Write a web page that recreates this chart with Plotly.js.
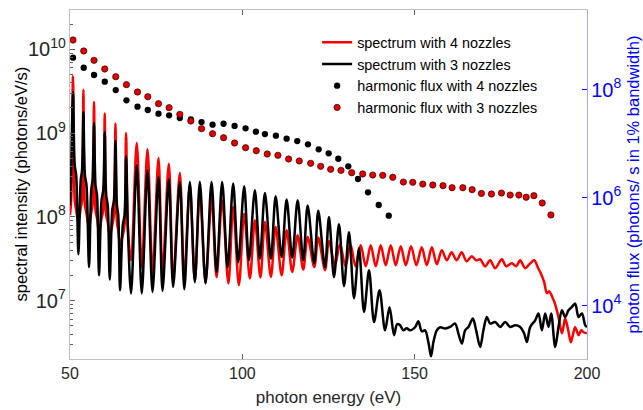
<!DOCTYPE html>
<html><head><meta charset="utf-8">
<script src="https://cdn.plot.ly/plotly-3.0.1.min.js"></script>
<style>html,body{margin:0;padding:0;background:#fff}#chart{width:643px;height:410px}</style>
</head><body><div id="chart"></div>
<script>
// spectrum with 4 nozzles (red), photon energy (eV) and spectral intensity (photons/eV/s)
const spec4E = [50.0,50.35,50.87,51.37,51.80,52.44,53.11,53.49,53.89,54.33,54.79,55.52,56.16,56.53,56.97,57.41,57.84,58.42,59.15,59.64,60.08,60.51,60.95,61.53,62.26,62.75,63.19,63.62,64.0,64.52,65.31,65.83,66.26,66.90,67.72,69.37,70.82,72.48,73.93,75.68,76.84,78.67,79.92,81.86,83.11,84.77,86.22,87.67,89.33,91.07,92.52,94.15,95.95,97.34,99.00,100.54,102.19,103.64,105.24,106.55,108.29,109.66,111.40,112.85,114.48,116.05,117.67,118.95,120.87,122.03,123.98,125.14,126.88,128.33,129.93,131.38,132.83,134.34,135.80,137.25,138.70,140.15,141.60,143.06,144.51,145.96,147.44,148.95,150.49,152.06,153.51,154.97,156.42,157.87,159.32,160.72,162.17,163.62,165.07,166.58,167.83,168.99,170.44,171.90,173.35,175.30,176.55,178.20,179.45,180.61,182.06,183.52,184.68,185.84,186.71,187.58,188.37,189.03,189.82,190.77,191.73,192.72,193.24,193.67,194.55,195.33,196.0,196.58,197.54,198.33,198.99,199.97];
const spec4I = [1.05e8,1.58e8,4.76e9,1.58e8,1.20e8,8.63e7,1.27e8,1.58e8,3.30e9,1.37e8,1.10e8,7.31e7,1.13e8,1.37e8,2.35e9,1.20e8,9.62e7,6.55e7,9.62e7,1.20e8,1.71e9,1.05e8,8.63e7,5.87e7,7.94e7,1.05e8,1.30e9,8.63e7,6.92e7,4.58e7,6.03e7,7.94e7,1.00e9,6.03e7,3.03e7,7.62e8,2.50e7,6.41e8,2.18e7,5.04e8,2.12e7,4.32e8,1.75e7,3.34e8,1.90e7,2.38e8,1.75e7,1.97e8,1.67e7,1.67e8,1.90e7,1.58e8,1.60e7,1.31e8,1.53e7,1.09e8,1.84e7,9.10e7,1.89e7,8.69e7,1.92e7,7.58e7,2.01e7,6.92e7,2.20e7,6.03e7,2.35e7,5.75e7,2.52e7,5.66e7,2.31e7,5.16e7,2.65e7,4.71e7,2.57e7,4.71e7,2.57e7,4.58e7,2.57e7,4.58e7,2.57e7,4.58e7,2.65e7,4.58e7,2.65e7,4.46e7,2.65e7,4.46e7,2.65e7,4.34e7,2.65e7,4.34e7,2.72e7,3.99e7,3.03e7,3.78e7,3.03e7,3.78e7,2.95e7,3.39e7,3.03e7,3.12e7,2.57e7,3.03e7,2.44e7,3.12e7,2.57e7,2.79e7,2.57e7,3.03e7,2.44e7,2.79e7,3.03e7,2.44e7,2.07e7,1.66e7,1.23e7,1.29e7,1.13e7,9.06e6,6.34e6,4.08e6,5.09e6,6.17e6,4.43e6,3.19e6,4.08e6,4.82e6,3.87e6,4.43e6,4.20e6,4.08e6];

// spectrum with 3 nozzles (black)
const spec3E = [50.0,50.35,50.87,51.37,51.80,52.44,53.11,53.49,53.89,54.33,54.79,55.52,56.16,56.53,56.97,57.41,57.84,58.42,59.15,59.64,60.08,60.51,60.95,61.53,62.26,62.75,63.19,63.62,64.0,64.52,65.31,65.83,66.26,66.76,67.72,69.37,70.82,72.48,73.93,75.68,76.84,78.67,79.92,81.86,83.17,84.77,86.22,87.67,89.33,91.07,92.52,94.15,95.72,97.34,98.80,100.54,101.90,103.64,105.10,106.55,108.29,109.66,111.40,112.85,114.48,116.05,117.67,118.95,120.87,122.03,123.98,125.14,126.59,128.04,129.50,130.95,132.40,133.85,135.30,136.76,138.21,139.81,141.40,142.71,144.02,144.89,145.76,146.72,147.70,148.66,150.11,151.07,152.06,153.02,153.98,154.76,155.43,156.42,157.38,158.83,160.28,161.73,162.69,163.68,164.64,165.60,166.88,167.84,169.00,169.95,170.94,171.90,173.35,174.80,176.26,177.71,179.16,180.61,181.77,182.56,183.52,184.97,185.93,186.91,187.87,188.83,189.61,190.77,191.73,192.72,193.67,194.63,195.62,196.58,197.54,198.53,199.49,200.0];
const spec3I = [1.38e8,3.80e8,3.09e9,4.13e8,3.14e8,3.58e7,2.73e8,3.60e8,1.79e9,3.13e8,2.38e8,2.52e7,2.08e8,2.73e8,1.32e9,2.38e8,1.81e8,2.01e7,1.58e8,2.08e8,1.03e9,1.81e8,1.37e8,1.79e7,1.20e8,1.58e8,8.05e8,1.37e8,1.05e8,1.33e7,7.94e7,1.05e8,5.29e8,7.94e7,1.22e7,4.13e8,1.22e7,3.60e8,1.27e7,2.99e8,1.31e7,2.79e8,1.46e7,2.61e8,1.37e7,2.61e8,1.66e7,2.61e8,1.61e7,2.61e8,2.18e7,2.61e8,2.50e7,2.50e8,2.87e7,2.32e8,3.03e7,2.08e8,3.18e7,1.93e8,3.18e7,1.76e8,3.32e7,1.61e8,3.27e7,1.58e8,3.03e7,1.37e8,2.77e7,1.18e8,2.52e7,9.97e7,1.90e7,8.16e7,1.49e7,6.55e7,1.07e7,4.22e7,7.33e6,2.31e7,5.57e6,1.33e7,4.43e6,8.34e6,3.87e6,5.23e6,5.09e6,4.43e6,4.69e6,4.43e6,4.82e6,5.68e6,4.31e6,4.43e6,3.19e6,2.17e6,3.19e6,4.43e6,4.82e6,4.65e6,4.86e6,5.33e6,4.05e6,3.08e6,4.43e6,4.86e6,6.11e6,4.43e6,2.80e6,4.43e6,6.39e6,5.33e6,5.57e6,4.86e6,5.57e6,4.86e6,5.09e6,4.86e6,4.05e6,3.21e6,4.86e6,5.83e6,7.02e6,4.43e6,7.02e6,4.86e6,7.02e6,2.80e6,4.86e6,7.68e6,6.39e6,7.68e6,8.41e6,9.23e6,6.39e6,7.02e6,5.09e6,4.86e6];

// harmonic flux with 4 nozzles (black dots), photons/s in 1% bandwidth
const flux4E = [50.87,53.98,56.97,60.08,63.27,66.38,69.58,72.57,75.67,78.75,81.86,85.06,88.16,91.36,94.55,97.75,100.94,103.94,106.55,109.74,112.85,115.93,119.04,122.15,125.05,127.84,130.74,133.56,136.46,139.57,142.48];
const flux4V = [3.92e8,2.55e8,1.87e8,1.41e8,9.86e7,6.37e7,4.84e7,4.21e7,3.60e7,3.36e7,2.99e7,2.83e7,2.52e7,2.25e7,2.34e7,2.13e7,1.93e7,1.67e7,1.51e7,1.41e7,1.24e7,1.12e7,9.75e6,7.87e6,6.64e6,5.27e6,3.81e6,2.22e6,1.26e6,7.33e5,4.65e5];

// harmonic flux with 3 nozzles (red dots)
const flux3E = [50.87,53.98,56.97,60.08,63.27,66.38,69.58,72.57,75.67,78.75,81.86,85.06,88.16,91.36,94.55,97.75,100.94,104.05,107.22,110.32,113.43,116.51,119.82,122.73,125.63,128.62,131.73,134.92,137.83,140.73,143.64,146.72,149.45,152.35,155.26,158.22,160.86,163.97,166.67,169.37,172.28,175.18,177.71,180.23,182.35,184.59,187.0,189.53];
const flux3V = [8.32e8,5.21e8,3.50e8,2.42e8,1.74e8,1.24e8,9.06e7,7.41e7,5.51e7,4.65e7,3.50e7,2.63e7,1.90e7,1.53e7,1.29e7,1.03e7,8.43e6,7.41e6,6.44e6,6.10e6,5.21e6,4.79e6,4.34e6,3.81e6,3.36e6,3.21e6,2.90e6,2.75e6,2.63e6,2.60e6,2.39e6,1.95e6,1.93e6,1.79e6,1.72e6,1.67e6,1.53e6,1.53e6,1.41e6,1.20e6,1.17e6,1.22e6,1.12e6,1.12e6,1.02e6,1.09e6,7.98e5,4.79e5];

const xTicks = [50,100,150,200];
const names = ['spectrum with 4 nozzles','spectrum with 3 nozzles','harmonic flux with 4 nozzles','harmonic flux with 3 nozzles'];
const leftTitle = 'spectral intensity (photons/eV/s)';

const traces = [
  {x:spec4E, y:spec4I, name:names[0], type:'scatter', mode:'lines', line:{color:'#ff0000', width:2.5, shape:'spline', smoothing:0.9}, yaxis:'y'},
  {x:spec3E, y:spec3I, name:names[1], type:'scatter', mode:'lines', line:{color:'#000000', width:2.5, shape:'spline', smoothing:0.9}, yaxis:'y'},
  {x:flux4E, y:flux4V, name:names[2], type:'scatter', mode:'markers', marker:{color:'#000000', size:6.3}, yaxis:'y2'},
  {x:flux3E, y:flux3V, name:names[3], type:'scatter', mode:'markers', marker:{color:'#e00000', size:6.3, line:{color:'#3a0000', width:0.7}}, yaxis:'y2'}
];

const FONT = 'Liberation Sans, Arial, Helvetica, sans-serif';

const layout = {
  width:643, height:410,
  margin:{l:70, r:56, t:10, b:51},
  paper_bgcolor:'#ffffff', plot_bgcolor:'#ffffff',
  font:{family:FONT, size:16, color:'#262626'},
  showlegend:true,
  legend:{x:0.478, y:0.953, xanchor:'left', yanchor:'top', bgcolor:'rgba(0,0,0,0)', font:{family:FONT, size:14.4, color:'#000000'}, itemwidth:30, tracegroupgap:0},
  xaxis:{range:[50,200], tickvals:xTicks, ticktext:xTicks.map(String), ticks:'inside', ticklen:5, tickcolor:'#606060',
         showline:true, linecolor:'#c0c0c0', linewidth:1, mirror:'ticks', showgrid:false, zeroline:false,
         tickfont:{family:FONT, size:16, color:'#262626'},
         title:{text:'photon energy (eV)', font:{family:FONT, size:17, color:'#262626'}, standoff:9}},
  yaxis:{type:'log', range:[6.304,10.469], dtick:1, exponentformat:'power', ticks:'inside', ticklen:5, tickcolor:'#606060',
         showline:true, linecolor:'#c0c0c0', linewidth:1, mirror:false, showgrid:false, zeroline:false,
         minor:{ticks:'inside', ticklen:3, dtick:'D1', tickcolor:'#606060', showgrid:false},
         tickfont:{family:FONT, size:16, color:'#262626'}},
  yaxis2:{type:'log', overlaying:'y', side:'right', range:[3.013,9.476], dtick:2, exponentformat:'power', ticks:'inside', ticklen:5,
          tickcolor:'#0000ff', showline:true, linecolor:'#a8a8ff', linewidth:1, showgrid:false, zeroline:false,
          tickfont:{family:FONT, size:16, color:'#0000ff'},
          title:{text:'photon flux (photons/ s in 1% bandwidth)', font:{family:FONT, size:16.5, color:'#0000ff'}, standoff:6}},
  annotations:[{text:leftTitle, xref:'paper', yref:'paper', x:-0.0967, y:0.5, xanchor:'center', yanchor:'middle',
                textangle:-90, showarrow:false, font:{family:FONT, size:16.5, color:'#000000'}}]
};

Plotly.newPlot('chart', traces, layout, {displayModeBar:false, staticPlot:true});
</script>
</body></html>
